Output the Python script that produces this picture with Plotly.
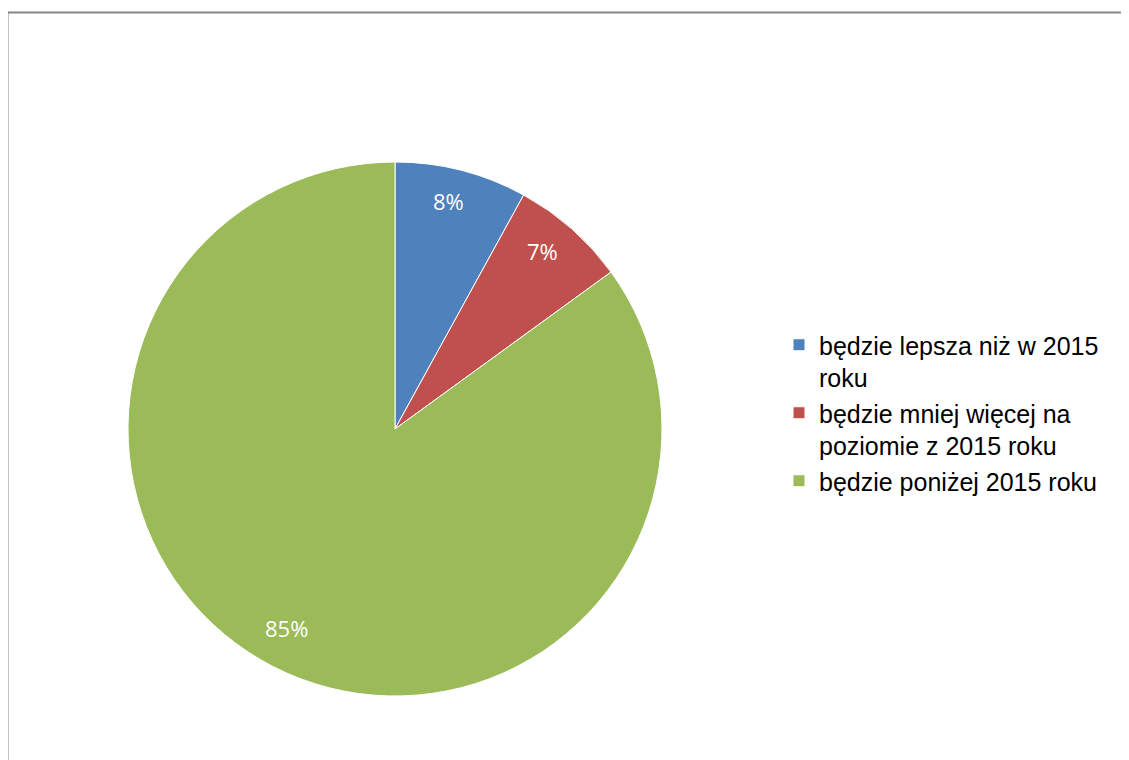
import math
import plotly.graph_objects as go

legend_labels = ["będzie lepsza niż w 2015<br>roku",
                 "będzie mniej więcej na<br>poziomie z 2015 roku",
                 "będzie poniżej 2015 roku"]
values = [8, 7, 85]
colors = ["#4F81BD", "#C0504D", "#9BBB59"]

W, H = 1129, 760
OFF = 8  # page body margin
cx, cy, R = 395 - OFF, 429 - OFF, 267

fig = go.Figure()
fig.add_trace(go.Pie(
    labels=legend_labels,
    values=values,
    sort=False,
    direction="clockwise",
    rotation=0,
    marker=dict(colors=colors, line=dict(color="white", width=1)),
    textinfo="none",
    hoverinfo="label+percent",
    domain=dict(x=[(cx - R) / W, (cx + R) / W], y=[1 - (cy + R) / H, 1 - (cy - R) / H]),
))

# percentage labels placed along each slice's mid-angle
total = sum(values)
cum = 0
for v in values:
    mid = (cum + v / 2) / total * 2 * math.pi
    cum += v
    rr = 0.86 * R
    px = cx + rr * math.sin(mid)
    py = cy - rr * math.cos(mid)
    fig.add_annotation(x=px / W, y=1 - py / H, xref="paper", yref="paper",
                       xanchor="center", yanchor="middle",
                       xshift=-4, yshift=6,
                       text=f"{round(v / total * 100)}%", showarrow=False,
                       font=dict(family="Open Sans", size=22, color="white"))

# chart border
fig.add_shape(type="rect", xref="paper", yref="paper",
              x0=(7.5 - OFF) / W, x1=1.02, y0=-0.02, y1=1 - (12.5 - OFF) / H,
              line=dict(color="#868686", width=2))

fig.update_layout(
    width=W, height=H,
    margin=dict(l=0, r=0, t=0, b=0),
    paper_bgcolor="white",
    plot_bgcolor="white",
    showlegend=True,
    legend=dict(x=(779 - OFF) / W, y=1 - (322 - OFF) / H, xanchor="left", yanchor="top",
                valign="top",
                font=dict(family="Liberation Sans, Arial", size=25, color="black"),
                itemwidth=30),
)

fig.write_html("out.html")
